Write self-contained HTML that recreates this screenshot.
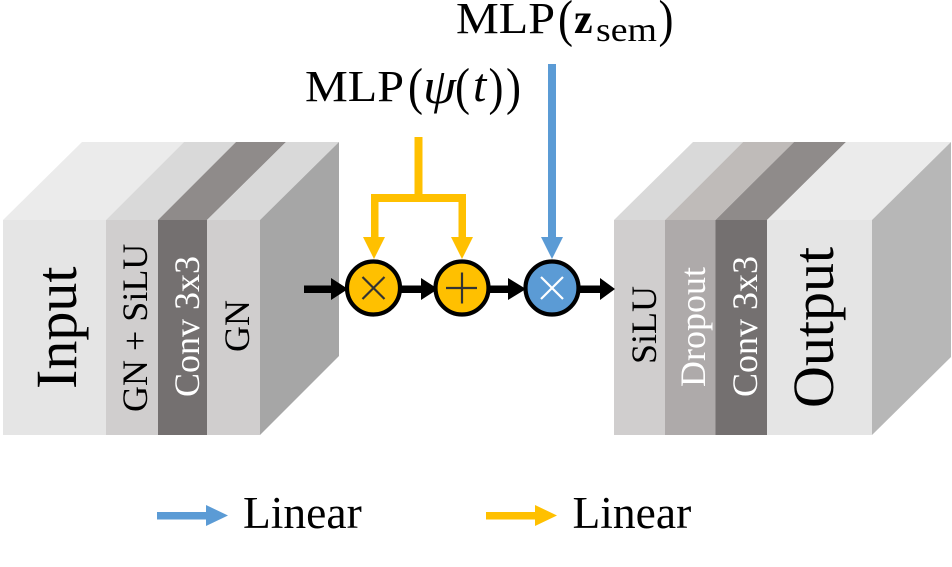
<!DOCTYPE html>
<html><head><meta charset="utf-8"><style>
html,body{margin:0;padding:0;background:#fff}
svg{display:block}
text{font-family:"Liberation Serif",serif}
</style></head><body>
<svg width="952" height="567" viewBox="0 0 952 567" xmlns="http://www.w3.org/2000/svg">
<!-- left block -->
<polygon points="3,220 82,142 184,142 106,220" fill="#ebebeb"/>
<polygon points="106,220 184,142 236,142 158,220" fill="#d9d9d9"/>
<polygon points="158,220 236,142 286,142 207,220" fill="#8f8b8a"/>
<polygon points="207,220 286,142 339,142 260,220" fill="#d9d9d9"/>
<polygon points="260,220 339,142 339,356 260,435" fill="#a6a6a6"/>
<rect x="3" y="220" width="103" height="215" fill="#e5e5e5"/>
<rect x="106" y="220" width="52" height="215" fill="#d0cece"/>
<rect x="158" y="220" width="49" height="215" fill="#747070"/>
<rect x="207" y="220" width="53" height="215" fill="#d0cece"/>
<!-- right block -->
<polygon points="614,220 693,142 743,142 665,220" fill="#d9d9d9"/>
<polygon points="665,220 743,142 794,142 715.5,220" fill="#bfbbb9"/>
<polygon points="715.5,220 794,142 846,142 767,220" fill="#8f8b8a"/>
<polygon points="767,220 846,142 951,142 872,220" fill="#ebebeb"/>
<polygon points="872,220 951,142 951,357 872,435" fill="#b7b7b7"/>
<rect x="614" y="220" width="51" height="215" fill="#d0cece"/>
<rect x="665" y="220" width="50.500" height="215" fill="#aeaaaa"/>
<rect x="715.500" y="220" width="51.500" height="215" fill="#747070"/>
<rect x="767" y="220" width="105" height="215" fill="#e5e5e5"/>
<!-- block labels -->
<text transform="translate(76,389) rotate(-90)" font-size="58" fill="#000">Input</text>
<text transform="translate(147,412) rotate(-90)" font-size="36" fill="#000">GN + SiLU</text>
<text transform="translate(199,397) rotate(-90)" font-size="36" fill="#fff">Conv 3x3</text>
<text transform="translate(249,352) rotate(-90)" font-size="36" fill="#000">GN</text>
<text transform="translate(656,364) rotate(-90)" font-size="36" fill="#000">SiLU</text>
<text transform="translate(705,387) rotate(-90)" font-size="36" fill="#fff">Dropout</text>
<text transform="translate(757,397) rotate(-90)" font-size="36" fill="#fff">Conv 3x3</text>
<text transform="translate(833,408) rotate(-90)" font-size="58" fill="#000">Output</text>
<!-- black arrows -->
<g fill="#000">
<rect x="304" y="285.500" width="30" height="7.500"/><polygon points="331,278 348,289 331,300"/>
<rect x="398" y="285.500" width="30" height="7.500"/><polygon points="421,278 438,289 421,300"/>
<rect x="488" y="285.500" width="30" height="7.500"/><polygon points="508,278 526,289 508,300"/>
<rect x="578" y="285.500" width="24" height="7.500"/><polygon points="600,278 615,289 600,300"/>
</g>
<!-- yellow connector -->
<g fill="#ffc000">
<rect x="414.500" y="137" width="8" height="60"/>
<rect x="371" y="194" width="95" height="8"/>
<rect x="371" y="194" width="7.500" height="45"/>
<rect x="458.500" y="194" width="7.500" height="45"/>
<polygon points="363,237 385,237 374,259"/>
<polygon points="451,237 473,237 462,259"/>
</g>
<!-- blue connector -->
<g fill="#5b9bd5">
<rect x="548" y="64" width="8" height="175"/>
<polygon points="541,237 563,237 552,259"/>
</g>
<!-- operator circles -->
<circle cx="373.500" cy="288" r="26.500" fill="#ffc000" stroke="#000" stroke-width="4.200"/>
<circle cx="462" cy="288" r="26.500" fill="#ffc000" stroke="#000" stroke-width="4.200"/>
<circle cx="552" cy="288" r="26.500" fill="#5b9bd5" stroke="#000" stroke-width="4.200"/>
<g stroke="#333" stroke-width="2.200" fill="none">
<path d="M362.500,277 L384.500,299 M384.500,277 L362.500,299"/>
<path d="M446,288 H477 M462,272.500 V303.500"/>
</g>
<path d="M541,277 L563,299 M563,277 L541,299" stroke="#fff" stroke-width="2.200" fill="none"/>
<!-- MLP labels -->
<text x="305" y="101" font-size="44" textLength="99" lengthAdjust="spacingAndGlyphs">MLP</text>
<text x="408" y="104" font-size="52" textLength="15" lengthAdjust="spacingAndGlyphs">(</text>
<text x="423" y="103" font-size="50" font-style="italic" textLength="33" lengthAdjust="spacingAndGlyphs">ψ</text>
<text x="455" y="104" font-size="52" textLength="15" lengthAdjust="spacingAndGlyphs">(</text>
<text x="473" y="101" font-size="48" font-style="italic">t</text>
<text x="488.500" y="104" font-size="52" textLength="15" lengthAdjust="spacingAndGlyphs">)</text>
<text x="506" y="104" font-size="52" textLength="15" lengthAdjust="spacingAndGlyphs">)</text>
<text x="456" y="33" font-size="44" textLength="99" lengthAdjust="spacingAndGlyphs">MLP</text>
<text x="558" y="36" font-size="52" textLength="15" lengthAdjust="spacingAndGlyphs">(</text>
<text x="574" y="33" font-size="42" font-weight="bold">z</text>
<text x="596" y="41" font-size="34" textLength="61" lengthAdjust="spacingAndGlyphs">sem</text>
<text x="658.500" y="36" font-size="52" textLength="15" lengthAdjust="spacingAndGlyphs">)</text>
<!-- legend -->
<rect x="157" y="512" width="50" height="7.500" fill="#5b9bd5"/>
<polygon points="206,505 228,515.500 206,526" fill="#5b9bd5"/>
<text x="243" y="528" font-size="45.500">Linear</text>
<rect x="486" y="512" width="50" height="7.500" fill="#ffc000"/>
<polygon points="535,505 557,515.500 535,526" fill="#ffc000"/>
<text x="572.500" y="528" font-size="45.500">Linear</text>
</svg>
</body></html>
